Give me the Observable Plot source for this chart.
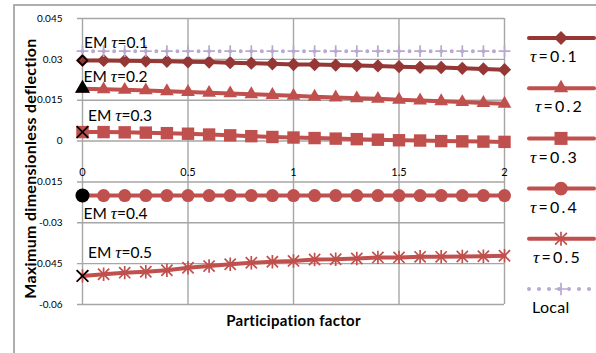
<!DOCTYPE html>
<html><head><meta charset="utf-8">
<script src="https://cdn.jsdelivr.net/npm/d3@7"></script>
<script src="https://cdn.jsdelivr.net/npm/@observablehq/plot@0.6"></script>
<style>
html,body{margin:0;padding:0;background:#fff;}
#chart{position:relative;width:596px;height:353px;overflow:hidden;}
</style></head><body><div id="chart"></div>
<script>
// ---- data ----
const participation = [0, 0.1, 0.2, 0.3, 0.4, 0.5, 0.6, 0.7, 0.8, 0.9, 1.0, 1.1, 1.2, 1.3, 1.4, 1.5, 1.6, 1.7, 1.8, 1.9, 2.0];
const tau01 = [0.0296, 0.0296, 0.0295, 0.0294, 0.0293, 0.0291, 0.0290, 0.0288, 0.0286, 0.0284, 0.0281, 0.0281, 0.0279, 0.0277, 0.0276, 0.0273, 0.0271, 0.0270, 0.0267, 0.0265, 0.0262];
const tau02 = [0.0192, 0.0190, 0.0188, 0.0186, 0.0183, 0.0180, 0.0177, 0.0175, 0.0172, 0.0169, 0.0166, 0.0163, 0.0160, 0.0157, 0.0155, 0.0152, 0.0149, 0.0146, 0.0143, 0.0140, 0.0137];
const tau03 = [0.0033, 0.0033, 0.0032, 0.0031, 0.0029, 0.0027, 0.0024, 0.0021, 0.0018, 0.0015, 0.0013, 0.0011, 0.0009, 0.0007, 0.0005, 0.0003, 0.0002, 0.0000, -0.0001, -0.0002, -0.0003];
const tau04 = [-0.0200, -0.0200, -0.0200, -0.0200, -0.0200, -0.0200, -0.0200, -0.0200, -0.0200, -0.0200, -0.0200, -0.0200, -0.0200, -0.0200, -0.0200, -0.0200, -0.0200, -0.0200, -0.0200, -0.0200, -0.0200];
const tau05 = [-0.0495, -0.0489, -0.0483, -0.0480, -0.0474, -0.0465, -0.0459, -0.0452, -0.0447, -0.0443, -0.0440, -0.0435, -0.0434, -0.0431, -0.0427, -0.0427, -0.0425, -0.0425, -0.0424, -0.0423, -0.0421];
const local = [0.0330, 0.0330, 0.0330, 0.0330, 0.0330, 0.0330, 0.0330, 0.0330, 0.0330, 0.0330, 0.0330, 0.0330, 0.0330, 0.0330, 0.0330, 0.0330, 0.0330, 0.0330, 0.0330, 0.0330, 0.0330];
const emLabels = ["EM τ=0.1", "EM τ=0.2", "EM τ=0.3", "EM τ=0.4", "EM τ=0.5"];
const emValues = [0.0296, 0.0193, 0.0033, -0.0200, -0.0495];
const seriesNames = ["τ=0.1", "τ=0.2", "τ=0.3", "τ=0.4", "τ=0.5", "Local"];
const xTicks = [0, 0.5, 1, 1.5, 2];
const yTicks = [0.045, 0.03, 0.015, 0, -0.015, -0.03, -0.045, -0.06];
const xTitle = "Participation factor";
const yTitle = "Maximum dimensionless deflection";

// ---- styles ----
const W = 596, H = 353, ML = 82, MR = 92, MT = 18, MB = 49;
const GRID = "#a6a6a6";
const FONT = "Lato, 'Open Sans', sans-serif";
const star = {draw(ctx, size) {
  const r = Math.sqrt(size / Math.PI);
  ctx.moveTo(-r, -r); ctx.lineTo(r, r);
  ctx.moveTo(-r, r); ctx.lineTo(r, -r);
  ctx.moveTo(0, -r * 1.2); ctx.lineTo(0, r * 1.2);
}};
const seriesStyle = [
  {values: tau01, color: "#953735", symbol: "diamond2", r: 6.0, filled: true},
  {values: tau02, color: "#c0504d", symbol: "triangle", r: 5.1, filled: true},
  {values: tau03, color: "#c0504d", symbol: "square", r: 7.0, filled: true},
  {values: tau04, color: "#c0504d", symbol: "circle", r: 6.5, filled: true},
  {values: tau05, color: "#c0504d", symbol: star, r: 5.6, filled: false},
  {values: local, color: "#b7a9cf", symbol: "plus", r: 3.9, filled: false, dotted: true}
];
const emStyle = [
  {symbol: "diamond2", r: 4.4, fill: "#953735", stroke: "#000"},
  {symbol: "triangle", r: 5.6, fill: "#000", stroke: "none"},
  {symbol: "times", r: 5.4, fill: "none", stroke: "#000"},
  {symbol: "circle", r: 7.0, fill: "#000", stroke: "none"},
  {symbol: "times", r: 5.4, fill: "none", stroke: "#000"}
];
const emLabelOffset = [[1.5, -17], [1, -11], [5.5, -16], [1, 18], [5.5, -23]];
const legendLabelX = [530, 535, 530, 530, 533, 532];

const rows = vals => participation.map((x, i) => ({x, y: vals[i]}));

const marks = [
  Plot.ruleY(yTicks, {stroke: GRID, strokeWidth: 1.4, insetLeft: -5}),
  Plot.ruleX(xTicks, {stroke: GRID, strokeWidth: 1.4}),
  Plot.axisY(yTicks, {tickSize: 0, tickPadding: 20, tickFormat: d => String(d), fontSize: 10, label: null}),
  Plot.text(xTicks, {x: d => d, y: () => 0, dy: 31, text: d => String(d), fontSize: 11, textAnchor: "middle"})
];
seriesStyle.forEach(s => {
  const data = rows(s.values);
  marks.push(Plot.line(data, {x: "x", y: "y", stroke: s.color, strokeWidth: 4,
    strokeDasharray: s.dotted ? "0 10.55" : null, strokeLinecap: "round"}));
  marks.push(Plot.dot(data, {x: "x", y: "y", symbol: s.symbol, r: s.r,
    fill: s.filled ? s.color : "none", stroke: s.filled ? "none" : s.color, strokeWidth: s.filled ? 0 : 1.7}));
});
emValues.forEach((v, i) => {
  const st = emStyle[i];
  marks.push(Plot.dot([v], {x: () => 0, y: d => d, symbol: st.symbol, r: st.r, fill: st.fill, stroke: st.stroke, strokeWidth: 1.7}));
  marks.push(Plot.text([emLabels[i]], {x: () => 0, y: () => v, text: d => d, dx: emLabelOffset[i][0], dy: emLabelOffset[i][1],
    textAnchor: "start", fontSize: 15.5}));
});
marks.push(Plot.text([xTitle], {frameAnchor: "bottom", dy: 21, text: d => d, fontWeight: "bold", fontSize: 15, textAnchor: "middle"}));
marks.push(Plot.text([yTitle], {frameAnchor: "left", dx: -52, dy: 7, rotate: -90, text: d => d, fontWeight: "bold", fontSize: 16, textAnchor: "middle"}));

const chart = Plot.plot({
  width: W, height: H,
  marginLeft: ML, marginRight: MR, marginTop: MT, marginBottom: MB,
  style: {fontFamily: FONT, background: "#fff", color: "#000", overflow: "visible"},
  x: {domain: [0, 2], axis: null},
  y: {domain: [-0.06, 0.045], axis: null},
  marks
});
document.getElementById("chart").appendChild(chart);

const svg = d3.select(chart);
// letter spacing for axis titles
svg.selectAll("text").filter(function() { return this.textContent === xTitle || this.textContent === yTitle; })
  .attr("letter-spacing", "0.3px");
// border of chart area
svg.insert("rect", ":first-child").attr("x", 14).attr("y", 5).attr("width", 620).attr("height", 420)
  .attr("fill", "none").attr("stroke", GRID).attr("stroke-width", 1.8);

// italic tau
function tauify(node) {
  const t = node.textContent;
  if (!t.includes("τ")) return;
  const parts = t.split("τ");
  node.textContent = "";
  parts.forEach((p, i) => {
    if (i > 0) {
      const ts = document.createElementNS("http://www.w3.org/2000/svg", "tspan");
      ts.setAttribute("font-family", "'Liberation Serif', serif");
      ts.setAttribute("font-style", "italic");
      ts.setAttribute("font-size", "1.1em");
      ts.textContent = "τ";
      node.appendChild(ts);
    }
    if (p) {
      const ts = document.createElementNS("http://www.w3.org/2000/svg", "tspan");
      ts.textContent = p;
      node.appendChild(ts);
    }
  });
}
chart.querySelectorAll("text").forEach(tauify);

// legend
const symMap = {diamond2: d3.symbolDiamond2, triangle: d3.symbolTriangle, square: d3.symbolSquare, circle: d3.symbolCircle, plus: d3.symbolPlus};
const lg = svg.append("g").attr("font-family", FONT).attr("text-anchor", "start");
seriesNames.forEach((name, i) => {
  const s = seriesStyle[i];
  const ly = 38 + i * 50.2;
  lg.append("line").attr("x1", 529).attr("x2", 594).attr("y1", ly).attr("y2", ly)
    .attr("stroke", s.color).attr("stroke-width", 4).attr("stroke-linecap", "round")
    .attr("stroke-dasharray", s.dotted ? "0 10" : null);
  const shape = typeof s.symbol === "string" ? symMap[s.symbol] : s.symbol;
  const rr = s.r * 1.05;
  lg.append("path").attr("transform", `translate(561,${ly})`)
    .attr("d", d3.symbol(shape, rr * rr * Math.PI)())
    .attr("fill", s.filled ? s.color : "none").attr("stroke", s.filled ? "none" : s.color).attr("stroke-width", 1.7);
  const tx = lg.append("text").attr("x", legendLabelX[i]).attr("y", ly + 19).attr("dy", "0.32em")
    .attr("font-size", 16).attr("letter-spacing", s.dotted ? "0.3px" : "2.2px").text(name);
  tauify(tx.node());
});
</script></body></html>
